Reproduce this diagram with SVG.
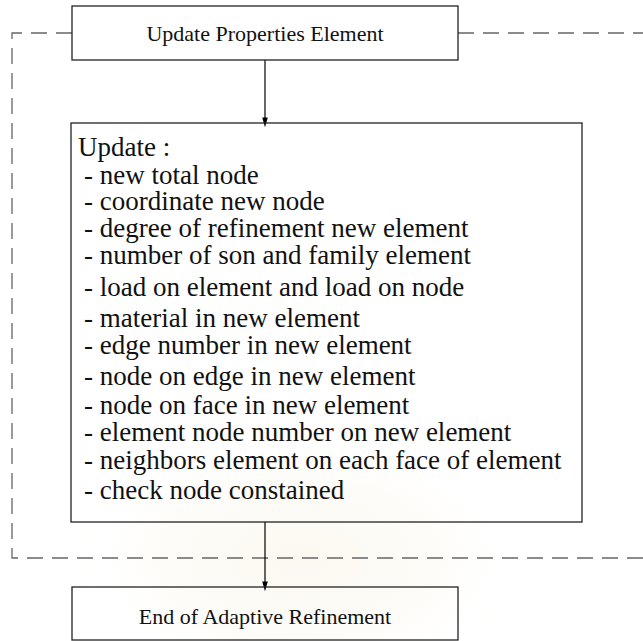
<svg xmlns="http://www.w3.org/2000/svg" width="643" height="641" viewBox="0 0 643 641">
  <defs>
    <marker id="arrow" markerWidth="10" markerHeight="18" refX="10" refY="5" orient="auto" markerUnits="userSpaceOnUse" viewBox="0 0 18 10">
      <path d="M0,0 L18,5 L0,10 Z" fill="#000"/>
    </marker>
    <radialGradient id="glow" cx="0.5" cy="0.5" r="0.5">
      <stop offset="0" stop-color="#f3e9cc" stop-opacity="0.3"/>
      <stop offset="0.6" stop-color="#f6efdc" stop-opacity="0.2"/>
      <stop offset="1" stop-color="#ffffff" stop-opacity="0"/>
    </radialGradient>
    <style>
      .box { fill: none; stroke: #222; stroke-width: 1.3; }
      .title { font-family: "Liberation Serif", "Times New Roman", serif; font-size: 22px; fill: #111; text-anchor: middle; }
      .body { font-family: "Liberation Serif", "Times New Roman", serif; font-size: 27px; fill: #111; }
      .flow { stroke: #000; stroke-width: 1.2; fill: none; }
      .loop { stroke: #666; stroke-width: 1.3; fill: none; stroke-dasharray: 16 9; }
    </style>
  </defs>
  <rect width="643" height="641" fill="#fff"/>
  <!-- faint background seal -->
  <ellipse cx="300" cy="560" rx="230" ry="130" fill="url(#glow)"/>

  <g id="connectors">
    <path class="loop" d="M72,33 H12 V558 H643"/>
    <path class="loop" d="M458,33 H643"/>
    <line class="flow" x1="265" y1="60" x2="265" y2="123" marker-end="url(#arrow)"/>
    <line class="flow" x1="265" y1="522" x2="265" y2="587" marker-end="url(#arrow)"/>
  </g>

  <g id="update-properties">
    <rect class="box" x="72" y="6" width="386" height="54"/>
    <text class="title" x="265" y="41">Update Properties Element</text>
  </g>

  <g id="update-list">
    <rect class="box" x="71" y="123" width="511" height="399"/>
    <text class="body" x="78" y="156">Update :</text>
    <text class="body" x="84" y="184">- new total node</text>
    <text class="body" x="84" y="210">- coordinate new node</text>
    <text class="body" x="84" y="237">- degree of refinement new element</text>
    <text class="body" x="84" y="264">- number of son and family element</text>
    <text class="body" x="84" y="296">- load on element and load on node</text>
    <text class="body" x="84" y="327">- material in new element</text>
    <text class="body" x="84" y="354">- edge number in new element</text>
    <text class="body" x="84" y="385">- node on edge in new element</text>
    <text class="body" x="84" y="414">- node on face in new element</text>
    <text class="body" x="84" y="441">- element node number on new element</text>
    <text class="body" x="84" y="469">- neighbors element on each face of element</text>
    <text class="body" x="84" y="499">- check node constained</text>
  </g>

  <g id="end-refinement">
    <rect class="box" x="72" y="587" width="386" height="53"/>
    <text class="title" x="265" y="624">End of Adaptive Refinement</text>
  </g>
</svg>
